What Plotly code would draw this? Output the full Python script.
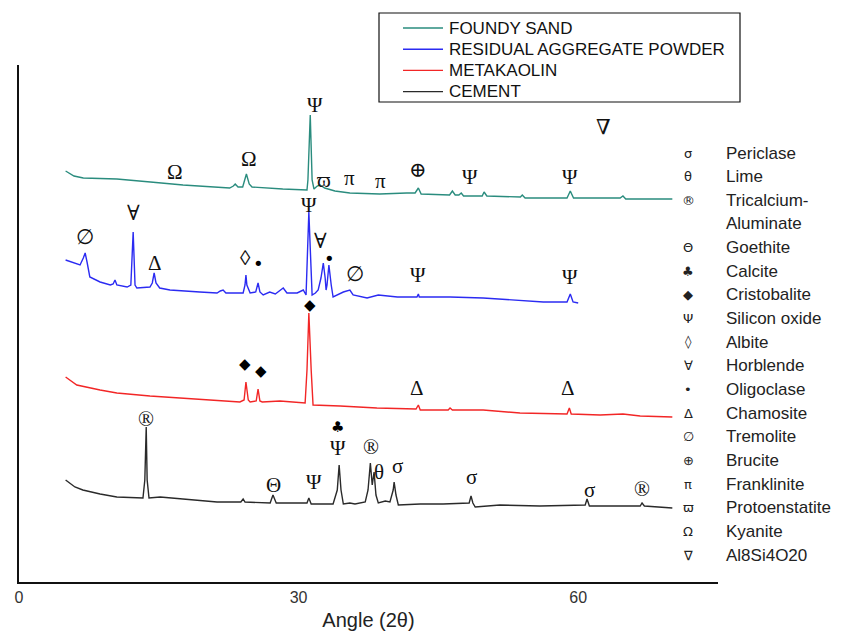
import plotly.graph_objects as go

# ---------------- data (2-theta in degrees, intensity in arbitrary units, stacked) ----------------
sand_2theta = [5.0, 5.9, 6.9, 10.5, 14.1, 17.6, 22.6, 23.0, 23.2, 23.5, 24.0, 24.4, 24.7, 25.0, 28.3,
               30.9, 31.0, 31.25, 31.45, 31.65, 32.0, 32.3, 32.8, 33.9, 35.5, 38.7, 41.6, 42.5, 42.85,
               43.15, 46.2, 46.5, 46.8, 47.2, 47.45, 47.7, 49.7, 49.9, 50.2, 53.8, 54.0, 54.3, 58.8,
               59.15, 59.5, 64.5, 64.8, 65.1, 70.1]
sand_int = [411, 406, 404, 403, 400, 397, 394, 396, 398, 395, 395, 408, 398, 395, 393,
            392, 402, 467, 402, 393, 396, 397, 394, 391, 389, 388, 389, 389, 394,
            388, 387, 391, 387, 387, 389, 386, 386, 390, 386, 385, 387, 384, 384,
            391, 384, 384, 386, 383, 383]

rap_2theta = [5.0, 5.7, 6.55, 6.9, 7.1, 7.3, 7.6, 8.7, 9.8, 10.1, 10.3, 10.5, 11.6, 12.0, 12.25,
              12.45, 12.65, 14.05, 14.3, 14.5, 14.7, 15.1, 16.2, 19.4, 21.25, 21.6, 21.9, 22.2,
              24.05, 24.25, 24.35, 24.45, 24.8, 25.4, 25.65, 25.85, 26.2, 26.9, 27.5, 28.35, 28.75,
              29.85, 30.5, 30.8, 30.9, 31.1, 31.3, 31.45, 31.8, 32.1, 32.4, 32.65, 32.85, 32.95,
              33.05, 33.25, 33.5, 33.7, 34.8, 35.5, 35.85, 37.35, 38.55, 40.6, 42.7, 42.85, 42.95,
              46.25, 49.8, 52.7, 56.25, 58.8, 59.15, 59.45, 60.0]
rap_int = [322, 320, 317, 324, 329, 320, 305, 300, 297, 298, 302, 297, 295, 297, 350,
           297, 294, 295, 299, 309, 299, 294, 292, 290, 289, 291, 292, 289,
           289, 297, 307, 297, 289, 290, 299, 290, 287, 290, 288, 294, 289,
           289, 292, 287, 322, 370, 322, 287, 289, 292, 304, 319, 304, 292,
           297, 317, 297, 285, 290, 292, 287, 284, 287, 285, 285, 288, 285,
           285, 284, 282, 280, 280, 288, 280, 279]

mk_2theta = [5.0, 5.7, 6.2, 8.7, 10.5, 14.05, 17.6, 23.7, 24.15, 24.35, 24.6, 24.8, 25.45, 25.65,
             25.85, 26.1, 28.0, 29.4, 30.7, 30.9, 31.1, 31.35, 31.55, 34.45, 38.4, 42.6, 42.85,
             43.05, 46.05, 46.25, 46.5, 49.8, 53.75, 58.8, 59.05, 59.25, 62.35, 64.8, 66.65, 70.1]
mk_int = [205, 200, 197, 192, 189, 186, 184, 180, 182, 200, 182, 180, 181, 193,
          181, 180, 181, 180, 179, 212, 269, 212, 177, 176, 174, 173, 177,
          172, 172, 174, 172, 172, 169, 168, 174, 168, 167, 168, 166, 165]

cem_2theta = [5.0, 6.0, 6.85, 8.7, 10.5, 13.3, 13.5, 13.65, 13.75, 13.95, 15.15, 17.3, 21.25, 23.8,
              24.05, 24.25, 26.95, 27.25, 27.6, 30.15, 30.9, 31.1, 31.35, 33.7, 34.15, 34.35, 34.55,
              34.8, 35.5, 36.05, 37.15, 37.45, 37.7, 37.9, 38.1, 38.3, 38.55, 39.3, 39.8, 40.15,
              40.25, 40.45, 40.7, 43.05, 45.5, 48.3, 48.5, 48.7, 48.95, 51.6, 55.9, 60.75, 60.95,
              61.2, 66.65, 66.85, 67.1, 70.1]
cem_int = [102, 95, 92, 88, 85, 84, 102, 155, 102, 84, 85, 83, 80, 80,
           83, 80, 79, 87, 79, 79, 79, 84, 78, 78, 92, 117, 92,
           78, 79, 78, 80, 92, 119, 97, 110, 87, 79, 81, 80, 92,
           100, 87, 77, 78, 78, 79, 86, 79, 75, 77, 76, 77, 83,
           76, 76, 79, 76, 74]

series_names = ["FOUNDY SAND", "RESIDUAL AGGREGATE POWDER", "METAKAOLIN", "CEMENT"]
series_colors = ["#2A8C7E", "#2B2BF2", "#F22626", "#2A2A2A"]

# phase labels on the patterns: (symbol, 2theta, intensity)
peak_sym = ["Ω", "Ω", "Ψ", "ϖ", "π", "π", "⊕", "Ψ", "Ψ", "∇",
            "∅", "∀", "Δ", "◊", "Ψ", "∀", "∅", "Ψ", "Ψ",
            "Δ", "Δ",
            "®", "Θ", "Ψ", "Ψ", "®", "θ", "σ", "σ", "σ", "®"]
peak_x = [16.75, 24.7, 31.75, 32.75, 35.5, 38.75, 42.85, 48.4, 59.15, 62.7,
          7.1, 12.25, 14.6, 24.35, 31.1, 32.4, 36.1, 42.85, 59.15,
          42.7, 58.9,
          13.65, 27.35, 31.6, 34.25, 37.8, 38.65, 40.6, 48.5, 61.2, 66.85]
peak_y = [410, 423, 477, 402, 404, 401, 412, 405, 405, 455,
          345, 369, 319, 324, 377, 341, 308, 307, 305,
          194, 194,
          163, 97, 100, 134, 135, 110, 116, 105, 92, 93]

# small filled markers (dots, diamonds, clubs)
mark_sym = ["•", "•", "◆", "◆", "◆", "♣"]
mark_x = [25.75, 33.35, 24.25, 25.95, 31.2, 34.2]
mark_y = [319, 324, 218, 211, 277, 155]

# phase key
key_sym = ["σ", "θ", "®", "", "Θ", "♣", "◆", "Ψ", "◊", "∀", "•", "Δ", "∅", "⊕", "π", "ϖ", "Ω", "∇"]
key_name = ["Periclase", "Lime", "Tricalcium-", "Aluminate", "Goethite", "Calcite", "Cristobalite",
            "Silicon oxide", "Albite", "Horblende", "Oligoclase", "Chamosite", "Tremolite", "Brucite",
            "Franklinite", "Protoenstatite", "Kyanite", "Al8Si4O20"]

x_ticks = [0, 30, 60]
x_range = [0, 75]
y_range = [0, 517]

# ---------------- layout geometry (page pixels; the page body adds an 8px offset) ----------------
OFF = 8
W, H = 843 - 2 * OFF, 639 - 2 * OFF
PL, PR, PT, PB = 19, 718, 65, 582          # plot area in page pixels
ML, MR, MT, MB = PL - OFF, W - (PR - OFF), PT - OFF, H - (PB - OFF)
plot_w, plot_h = PR - PL, PB - PT


def px(xp):
    return (xp - PL) / plot_w


def py(yp):
    return (PB - yp) / plot_h


fig = go.Figure()
for name, xs, ys, col in zip(series_names,
                             [sand_2theta, rap_2theta, mk_2theta, cem_2theta],
                             [sand_int, rap_int, mk_int, cem_int], series_colors):
    fig.add_trace(go.Scatter(x=xs, y=ys, mode="lines", name=name, showlegend=False,
                             line=dict(color=col, width=1.4)))

serif = "Liberation Serif, DejaVu Serif, serif"
sans = "Liberation Sans, Arial, sans-serif"

for s, x, y in zip(peak_sym, peak_x, peak_y):
    fig.add_annotation(x=x, y=y, text=s, showarrow=False, xanchor="center", yanchor="middle",
                       font=dict(family=serif, size=21, color="#111111"))
for s, x, y in zip(mark_sym, mark_x, mark_y):
    sz = 18 if s == "•" else 15
    fig.add_annotation(x=x, y=y, text=s, showarrow=False, xanchor="center", yanchor="middle",
                       font=dict(family="DejaVu Sans", size=sz, color="#000000"))

# phase key on the right
row0 = 153
row_gap = 23.65
for i, (s, n) in enumerate(zip(key_sym, key_name)):
    yrow = row0 + i * row_gap
    if s:
        fig.add_annotation(xref="paper", yref="paper", x=px(688), y=py(yrow), text=s,
                           showarrow=False, xanchor="center", yanchor="middle",
                           font=dict(family="DejaVu Sans", size=13, color="#222222"))
    fig.add_annotation(xref="paper", yref="paper", x=px(724), y=py(yrow), text=n,
                       showarrow=False, xanchor="left", yanchor="middle",
                       font=dict(family=sans, size=17, color="#222222"))

# series key (boxed, top)
fig.add_shape(type="rect", xref="paper", yref="paper", x0=px(379), x1=px(740), y0=py(102), y1=py(13),
              line=dict(color="#111111", width=1.2), fillcolor="white", layer="above")
for i, (n, col) in enumerate(zip(series_names, series_colors)):
    yrow = 28 + i * 21.2
    fig.add_shape(type="line", xref="paper", yref="paper", x0=px(403), x1=px(443),
                  y0=py(yrow), y1=py(yrow), line=dict(color=col, width=1.4), layer="above")
    fig.add_annotation(xref="paper", yref="paper", x=px(447), y=py(yrow), text=n,
                       showarrow=False, xanchor="left", yanchor="middle",
                       font=dict(family=sans, size=17, color="#111111"))

fig.update_layout(
    width=W, height=H,
    margin=dict(l=ML, r=MR, t=MT, b=MB, autoexpand=False),
    paper_bgcolor="white", plot_bgcolor="white",
    showlegend=False,
    xaxis=dict(range=x_range, tickvals=x_ticks, ticks="", showline=True, linecolor="#111111",
               linewidth=2, showgrid=False, zeroline=False,
               tickfont=dict(family=sans, size=16, color="#333333"),
               title=dict(text="Angle (2θ)", font=dict(family=sans, size=20, color="#222222"),
                          standoff=17)),
    yaxis=dict(range=y_range, showticklabels=False, ticks="", showline=True, linecolor="#111111",
               linewidth=2, showgrid=False, zeroline=False),
)

fig.write_html("out.html")
